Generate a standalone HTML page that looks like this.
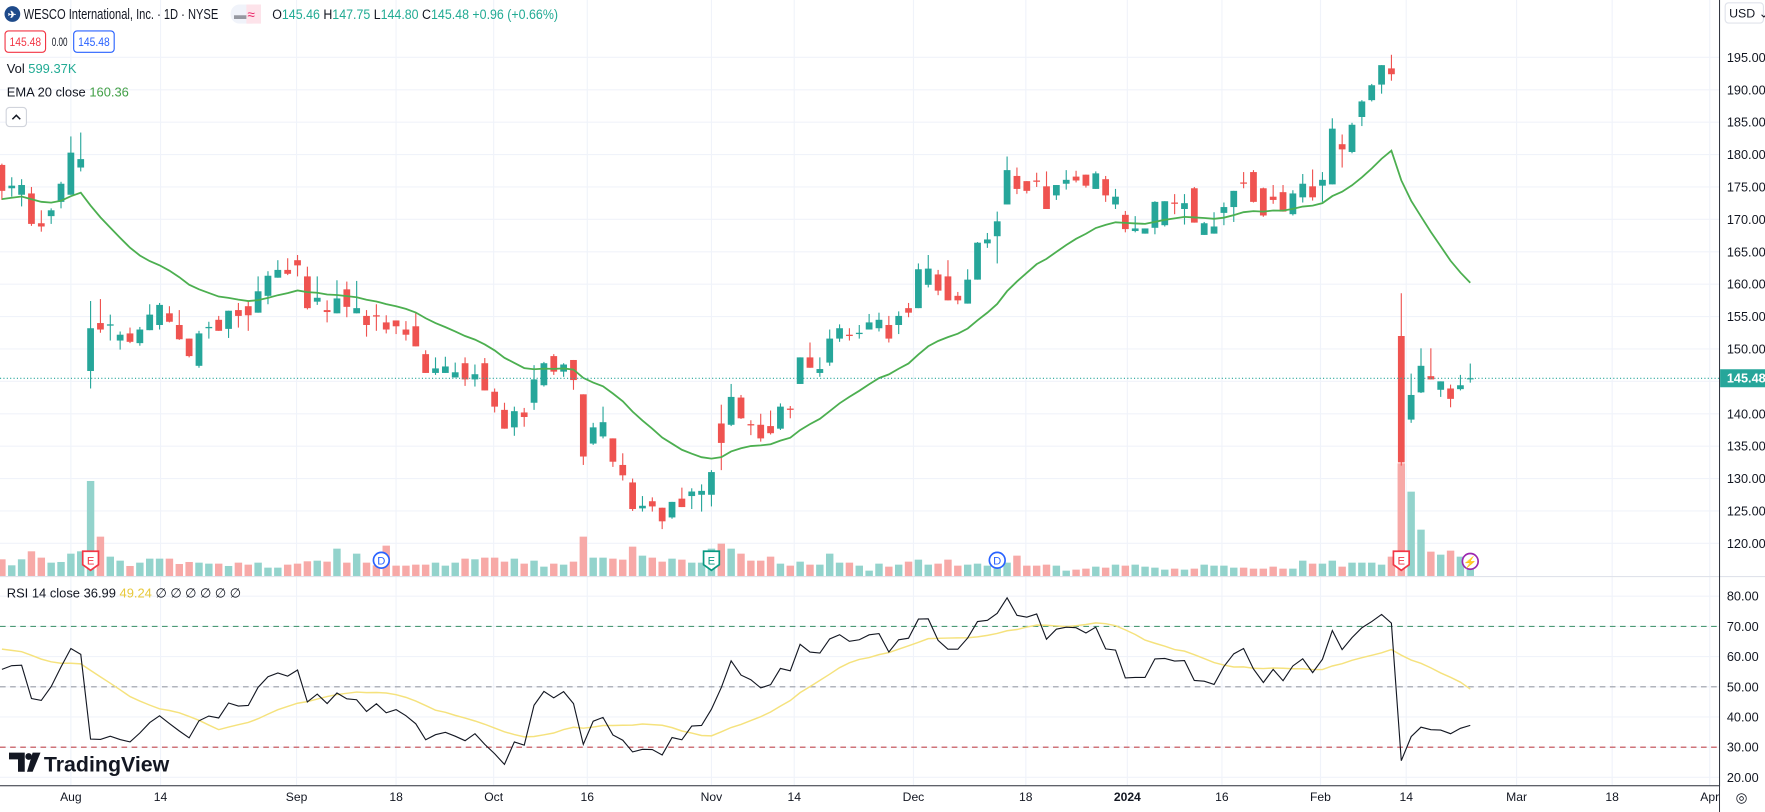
<!DOCTYPE html>
<html><head><meta charset="utf-8">
<style>
html,body{margin:0;padding:0;background:#fff;overflow:hidden}
svg{display:block}
text{font-family:"Liberation Sans",sans-serif}
</style></head>
<body>
<svg id="chart" xmlns="http://www.w3.org/2000/svg" width="1765" height="812" viewBox="0 0 1568.9 721.8" preserveAspectRatio="none">
<rect x="0" y="0" width="1568.9" height="721.8" fill="#ffffff"/>
<g id="grid"></g>
<g id="vol"></g>
<g id="candles"></g>
<g id="ema"></g>
<g id="rsi"></g>
<g id="markers"></g>
<g id="axes"></g>

<!-- header -->
<g>
  <circle cx="11" cy="12.5" r="7" fill="#1e4a8a"/>
  <text x="7" y="16" font-size="9" fill="#fff" font-weight="bold">✈</text>
  <text x="21" y="17" font-size="13" fill="#131722" textLength="173" lengthAdjust="spacingAndGlyphs">WESCO International, Inc. · 1D · NYSE</text>
  <rect x="205" y="4" width="27" height="17" rx="8" fill="#f0f3fa"/>
  <rect x="219" y="4" width="13" height="17" fill="#fde3ea"/>
  <text x="208" y="17" font-size="11" fill="#9598a1">▬</text>
  <text x="220" y="17" font-size="12" fill="#e91e63">≈</text>
  <text x="242" y="17" font-size="12" textLength="254" lengthAdjust="spacingAndGlyphs"><tspan fill="#131722">O</tspan><tspan fill="#22ab94">145.46 </tspan><tspan fill="#131722">H</tspan><tspan fill="#22ab94">147.75 </tspan><tspan fill="#131722">L</tspan><tspan fill="#22ab94">144.80 </tspan><tspan fill="#131722">C</tspan><tspan fill="#22ab94">145.48 +0.96 (+0.66%)</tspan></text>
  <rect x="4.5" y="27.5" width="36" height="19" rx="3" fill="#fff" stroke="#f23645"/>
  <text x="22.5" y="41" font-size="11" fill="#f23645" text-anchor="middle" textLength="28" lengthAdjust="spacingAndGlyphs">145.48</text>
  <text x="46" y="41" font-size="10.5" fill="#131722" textLength="14" lengthAdjust="spacingAndGlyphs">0.00</text>
  <rect x="65.5" y="27.5" width="36" height="19" rx="3" fill="#fff" stroke="#2962ff"/>
  <text x="83.5" y="41" font-size="11" fill="#2962ff" text-anchor="middle" textLength="28" lengthAdjust="spacingAndGlyphs">145.48</text>
  <text x="6" y="65" font-size="11.5"><tspan fill="#131722">Vol </tspan><tspan fill="#22ab94">599.37K</tspan></text>
  <text x="6" y="86" font-size="11.5"><tspan fill="#131722">EMA 20 close </tspan><tspan fill="#43a047">160.36</tspan></text>
  <rect x="5.5" y="95.5" width="18" height="17" rx="3" fill="#fff" stroke="#d1d4dc"/>
  <path d="M11 106 L14.5 102.5 L18 106" fill="none" stroke="#131722" stroke-width="1.3"/>
  <text x="6" y="531" font-size="11.5"><tspan fill="#131722">RSI 14 close </tspan><tspan fill="#131722"> 36.99 </tspan><tspan fill="#e8c93a"> 49.24 </tspan><tspan fill="#131722"> ∅ ∅ ∅ ∅ ∅ ∅</tspan></text>
</g>
<g>
  <path d="M8 669 h14 v17 h-6 v-11 h-8 z" fill="#131722"/>
  <circle cx="25.5" cy="672.5" r="3" fill="#131722"/>
  <path d="M29 669 h7 l-7 17 h-5 z" fill="#131722"/>
  <text x="39" y="686" font-size="19" font-weight="bold" fill="#131722">TradingView</text>
</g>
</svg>
<script>
const FIRST_BAR = -7;
const opens = [178.4,174.8,173.8,174,169.4,170.5,172.7,173.8,178,146.6,154,153.6,151.3,152.4,150.9,152.9,153.7,155.5,153.7,151.6,147.4,153.2,154.5,153.1,156,156.6,155.6,158.2,161,162.2,163.7,161.2,157.3,156,155.5,159.2,155.5,155.1,155.2,154.1,154.4,153,153.5,149.2,146.3,146.3,145.6,147.8,145.3,147.8,143.4,140.6,137.9,140.2,141.7,144.4,148.9,146.5,148.3,143,135.4,136.5,136.2,132.1,129.4,125.4,126.5,125.5,124,126.9,127.3,127.5,127.5,138.5,138.3,142.5,138.4,138.3,138.1,137.7,140.8,144.6,148.7,146.3,147.9,151.6,152.2,152.3,153,153.2,153.7,153.7,156.3,156.3,159.9,161.5,161.2,158.2,157,160.7,166.3,167.4,172.3,176.7,175.9,176,175.1,173.7,175.5,176.6,176.9,174.7,176.2,172.3,170.7,168.2,167.8,168.7,169.1,172.6,171.6,174.8,167.6,167.8,171,171.9,175.7,177.3,174.8,173.5,174.2,170.8,173.4,175.1,175.2,175.4,181.6,180.4,185.8,188.4,190.8,193.3,152,139.1,143.3,145.8,143.7,143.9,143.8,145.46];
const highs = [178.6,176.5,176.2,175,171.4,171.7,175.8,182.8,183.4,157.4,157.7,155.3,152.7,153.3,153.4,156.9,157.1,156.6,156,151.6,152.8,154.2,155.1,155.9,157.1,157.4,161.2,162,163.7,164,164.5,162.7,161.2,157.5,160.6,160.4,160.5,156,156.9,155.2,154.4,154.3,155.6,149.8,148.7,148.8,147.9,148.7,147.6,148.6,143.9,141.7,141.1,140.9,147.5,148,149.2,147.8,148.3,143,138.6,141.1,136.2,133.9,130,127.3,127.1,125.5,126.4,128.6,128.5,129.1,131.3,141.4,144.6,142.9,139,140,140.5,141.6,141.2,148.7,151,148.7,153,153.8,153.2,153.7,155.4,155.6,155.1,155.8,157.1,163.2,164.5,162.2,163.7,158.8,162.3,166.5,167.9,171.2,179.7,178,175.9,177.2,177.4,175.3,177.6,177.5,176.9,177.4,176.7,174.7,171.3,170.5,168.6,172.8,172.8,173.9,173.9,175,169.6,171.1,172.6,174.4,177.3,177.6,174.9,175.3,175.3,174.5,177,177.7,177.3,185.6,183.1,184.9,188.4,190.9,193.8,195.4,158.6,146.2,150.1,150.1,145,144.5,146,147.75];
const lows = [173,173.5,172,169,168.1,169.3,171.7,173.8,177.4,143.9,152.5,151.3,149.9,150.9,150.5,152.9,153,154.1,151.4,148.7,147.1,151.6,152.8,151.7,153.3,152.8,155.6,156.9,161,161.4,161.2,156.1,156.8,154.1,155.5,154.9,155.5,151.9,152.8,152.4,152.3,151.3,150.4,146.3,146,146.3,145.6,144.3,144.2,143.6,140.2,137.7,136.6,138,140.6,144.2,146,145.7,143.7,132.1,135.2,136.2,131.8,129.7,125,124.9,124.9,122.2,123.8,125.6,125.3,124.9,125.7,131.3,138.1,139.2,136.7,135.7,136.8,137.5,139.3,144.6,147.1,145.7,147.4,151.1,151.3,151.6,153,152.7,151,152.3,154.9,156.3,159.5,158.3,157.5,156.9,157,160.7,165.6,163.2,172.3,173.9,174,175,171.6,173,174.6,175.7,174.9,174.7,172.7,171.6,168,168,167.8,167.7,168.9,170.8,169.2,169.5,167.6,167.8,169.1,169.6,174.8,172.6,170.4,172.4,171.2,170.6,172.6,172.9,172.7,175.4,178,180.2,184.4,188.2,189.4,191.4,132,138.6,143.2,145.3,142.6,141,143.6,144.80];
const closes = [174.4,175.2,175.3,169.3,168.9,171.4,175.5,180.3,179.3,153.2,153,153.8,152.2,151.1,153,155.3,156.8,154.2,151.5,148.9,152.4,153.4,152.8,155.9,155.1,155.2,158.9,161.3,162.2,161.6,162.9,156.3,157.9,155.7,157.8,156.5,156.3,153.7,155,153,153.5,152.2,150.4,146.3,147,147.3,146.4,145.3,146.1,143.6,141.1,137.7,140.4,139.5,145.3,147.8,146.5,147.6,145.2,133.4,137.9,138.7,132.6,130.5,125.3,125.8,125.7,123.4,126.4,125.6,128,128.1,131,135.5,142.6,139.3,138.2,136.2,137,141.1,140.6,148.7,147.1,146.9,151.6,153.2,152,152.5,154.1,154.5,151.6,155.1,155.6,162.3,162.4,159,157.5,157.5,160.7,166.4,166.9,169.7,177.6,174.7,174.4,175.8,171.6,175.3,176.1,176,175.2,177.1,173.7,173.5,168.5,168.6,168.6,172.7,172.8,172.4,172.5,169.5,169.4,168.9,171.9,174.4,175.5,172.7,170.6,173,171.2,174,175.5,173.4,176.1,184,180.8,184.6,188.2,190.7,193.8,192.4,132.5,142.9,147.4,145.3,145,142.3,144.4,145.48];
const volumes = [50,32,50,74,55,40,42,67,74,285,118,58,46,30,40,52,52,52,36,42,40,37,37,30,40,34,40,25,25,34,37,44,46,43,82,40,67,40,32,91,31,31,34,34,40,31,40,52,50,55,55,43,52,37,46,28,37,34,43,118,55,55,52,49,88,61,55,43,52,49,40,40,82,97,82,67,46,46,58,37,31,43,34,34,67,40,40,31,16,37,28,34,43,49,34,37,49,31,34,37,31,46,40,61,31,31,34,31,16,19,22,28,25,34,31,34,28,25,19,22,19,22,34,31,31,25,25,22,22,28,22,22,46,37,37,46,28,40,40,40,34,58,338,253,139,73,64,76,58,36];
const priceTicks = [195,190,185,180,175,170,165,160,155,150,140,135,130,125,120];
const rsiTicks = [80,70,60,50,40,30,20];
const dateLabels = ["Aug","14","Sep","18","Oct","16","Nov","14","Dec","18","2024","16","Feb","14","Mar","18","Apr"];
const dateBars = [0,9.1,22.9,33,42.9,52.4,65,73.4,85.5,96.9,107.2,116.8,126.8,135.5,146.7,156.4,166.3];
const markerTypes = ["E","D","E","D","E"];
const markerBars = [2,31.5,65,94,135];
const markerColors = ["#f23645","#2962ff","#089981","#2962ff","#f23645"];
const LAST_PRICE = 145.48;

const NS = "http://www.w3.org/2000/svg";
const PANE_R = 1528;
function xOf(bar){ return 63 + bar*8.76; }
function yP(p){ return 51 + (195-p)*5.76; }
function yR(r){ return 530 + (80-r)*2.683; }
function yV(v){ return 512 - v/3.375; }
function mk(tag, attrs, parent){
  const e = document.createElementNS(NS, tag);
  for (const k in attrs) e.setAttribute(k, attrs[k]);
  parent.appendChild(e);
  return e;
}
const grid = document.getElementById('grid');
const volG = document.getElementById('vol');
const cG = document.getElementById('candles');
const emaG = document.getElementById('ema');
const rsiG = document.getElementById('rsi');
const mG = document.getElementById('markers');
const axG = document.getElementById('axes');

priceTicks.concat([145]).forEach(p=>{
  const l = mk('line',{x1:0,x2:PANE_R,y1:yP(p),y2:yP(p),stroke:'#f0f3fa','stroke-width':1},grid);
  
  
});
rsiTicks.forEach(r=>{
  const l = mk('line',{x1:0,x2:PANE_R,y1:yR(r),y2:yR(r),stroke:'#f0f3fa','stroke-width':1},grid);
  
  
});
dateBars.forEach(b=>{
  const l = mk('line',{x1:xOf(b),x2:xOf(b),y1:0,y2:698,stroke:'#f0f3fa','stroke-width':1},grid);
  
  
});

volumes.forEach((v,i)=>{
  const bar = i + FIRST_BAR;
  const up = closes[i] >= opens[i];
  const r = mk('rect',{x:xOf(bar)-3.3,y:yV(v),width:6.6,height:512-yV(v),fill:up?'#93d3cc':'#f7a9a7'},volG);
  
  
});

closes.forEach((c,i)=>{
  const bar = i + FIRST_BAR;
  const o = opens[i], h = highs[i], l = lows[i];
  const up = c >= o;
  const col = up ? '#26a69a' : '#ef5350';
  const x = xOf(bar);
  const g = mk('g',{},cG);
  
  
  mk('line',{x1:x,x2:x,y1:yP(h),y2:yP(l),stroke:col,'stroke-width':1},g);
  const top = yP(Math.max(o,c)), bot = yP(Math.min(o,c));
  mk('rect',{x:x-3,y:top,width:6,height:Math.max(1,bot-top),fill:col},g);
});

let ema = 173.0;
const emaPts = [];
closes.forEach((c,i)=>{ ema += (c-ema)*2/21; emaPts.push([xOf(i+FIRST_BAR), yP(ema)]); });
const emaPath = mk('path',{d:'M'+emaPts.map(p=>p[0].toFixed(1)+' '+p[1].toFixed(1)).join(' L'),fill:'none',stroke:'#4caf50','stroke-width':1.6},emaG);



const pl = mk('line',{x1:0,x2:PANE_R,y1:yP(LAST_PRICE),y2:yP(LAST_PRICE),stroke:'#26a69a','stroke-width':1,'stroke-dasharray':'1 2'},axG);



let ag = 1.3, al = 1.0;
const rsiVals = [];
closes.forEach((c,i)=>{
  const prev = i===0 ? 174.8 : closes[i-1];
  const d = c - prev;
  ag = (ag*13 + Math.max(d,0))/14;
  al = (al*13 + Math.max(-d,0))/14;
  rsiVals.push(100 - 100/(1+ag/al));
});
const hist = new Array(13).fill(63).concat(rsiVals);
const rsiMa = rsiVals.map((v,i)=>{ let s=0; for(let k=i;k<i+14;k++) s+=hist[k]; return s/14; });
[[70,'#4c9a76'],[50,'#9a9ea8'],[30,'#c2484f']].forEach(b=>{
  const l = mk('line',{x1:0,x2:PANE_R,y1:yR(b[0]),y2:yR(b[0]),stroke:b[1],'stroke-width':1,'stroke-dasharray':'5 4'},rsiG);
  
  
});
const maPath = mk('path',{d:'M'+rsiMa.map((v,i)=>xOf(i+FIRST_BAR).toFixed(1)+' '+yR(v).toFixed(1)).join(' L'),fill:'none',stroke:'#f5e27d','stroke-width':1.3},rsiG);


const rPath = mk('path',{d:'M'+rsiVals.map((v,i)=>xOf(i+FIRST_BAR).toFixed(1)+' '+yR(v).toFixed(1)).join(' L'),fill:'none',stroke:'#131722','stroke-width':1},rsiG);



markerTypes.forEach((t,k)=>{
  const x = xOf(markerBars[k]), col = markerColors[k];
  const g = mk('g',{},mG);
  
  
  if (t==='E'){
    mk('path',{d:`M${x-7} 490 h14 v12 l-7 5 l-7 -5 z`,fill:'#fff',stroke:col,'stroke-width':1.5},g);
  } else {
    mk('circle',{cx:x,cy:498,r:7,fill:'#fff',stroke:col,'stroke-width':1.5},g);
  }
  const tx = mk('text',{x:x,y:502,'font-size':10,fill:col,'text-anchor':'middle'},g);
  tx.textContent = t;
});
const lg = mk('g',{},mG);


mk('circle',{cx:xOf(142),cy:499,r:7,fill:'#fff',stroke:'#9c27b0','stroke-width':1.5},lg);
const lt = mk('text',{x:xOf(142),y:503,'font-size':10,fill:'#9c27b0','text-anchor':'middle'},lg);
lt.textContent = '⚡';

mk('rect',{x:PANE_R,y:0,width:41,height:722,fill:'#fff'},axG);
mk('rect',{x:0,y:698,width:1569,height:24,fill:'#fff'},axG);
mk('line',{x1:0,x2:1569,y1:512.5,y2:512.5,stroke:'#e0e3eb','stroke-width':1},axG);
mk('line',{x1:PANE_R+0.5,x2:PANE_R+0.5,y1:0,y2:722,stroke:'#2a2e39','stroke-width':0.9},axG);
mk('line',{x1:0,x2:PANE_R,y1:698.5,y2:698.5,stroke:'#2a2e39','stroke-width':0.9},axG);
priceTicks.forEach(p=>{
  const t = mk('text',{x:1535,y:yP(p)+4,'font-size':11.3,fill:'#131722'},axG);
  
  
  t.textContent = p.toFixed(2);
});
rsiTicks.forEach(r=>{
  const t = mk('text',{x:1535,y:yR(r)+4,'font-size':11.3,fill:'#131722'},axG);
  
  
  t.textContent = r.toFixed(2);
});
const pb = mk('rect',{x:PANE_R+1,y:yP(LAST_PRICE)-8,width:40,height:16,fill:'#26a69a'},axG);


const pt = mk('text',{x:1535,y:yP(LAST_PRICE)+4,'font-size':11.3,fill:'#fff','font-weight':'bold'},axG);
pt.textContent = LAST_PRICE.toFixed(2);
const ub = mk('rect',{x:1533.5,y:2.5,width:34,height:18,rx:3,fill:'#fff',stroke:'#e0e3eb'},axG);


const ut = mk('text',{x:1537,y:15.5,'font-size':11,fill:'#131722'},axG);
ut.textContent = 'USD ⌄';
dateLabels.forEach((d,k)=>{
  const t = mk('text',{x:xOf(dateBars[k]),y:712,'font-size':10.8,fill:'#131722','text-anchor':'middle','font-weight':d==='2024'?'bold':'normal'},axG);
  
  
  t.textContent = d;
});
mk('rect',{x:PANE_R+1,y:699,width:40,height:23,fill:'#fff'},axG);
const eye = mk('text',{x:1548,y:713,'font-size':12,fill:'#131722','text-anchor':'middle'},axG);


eye.textContent = '◎';
</script>
</body></html>
